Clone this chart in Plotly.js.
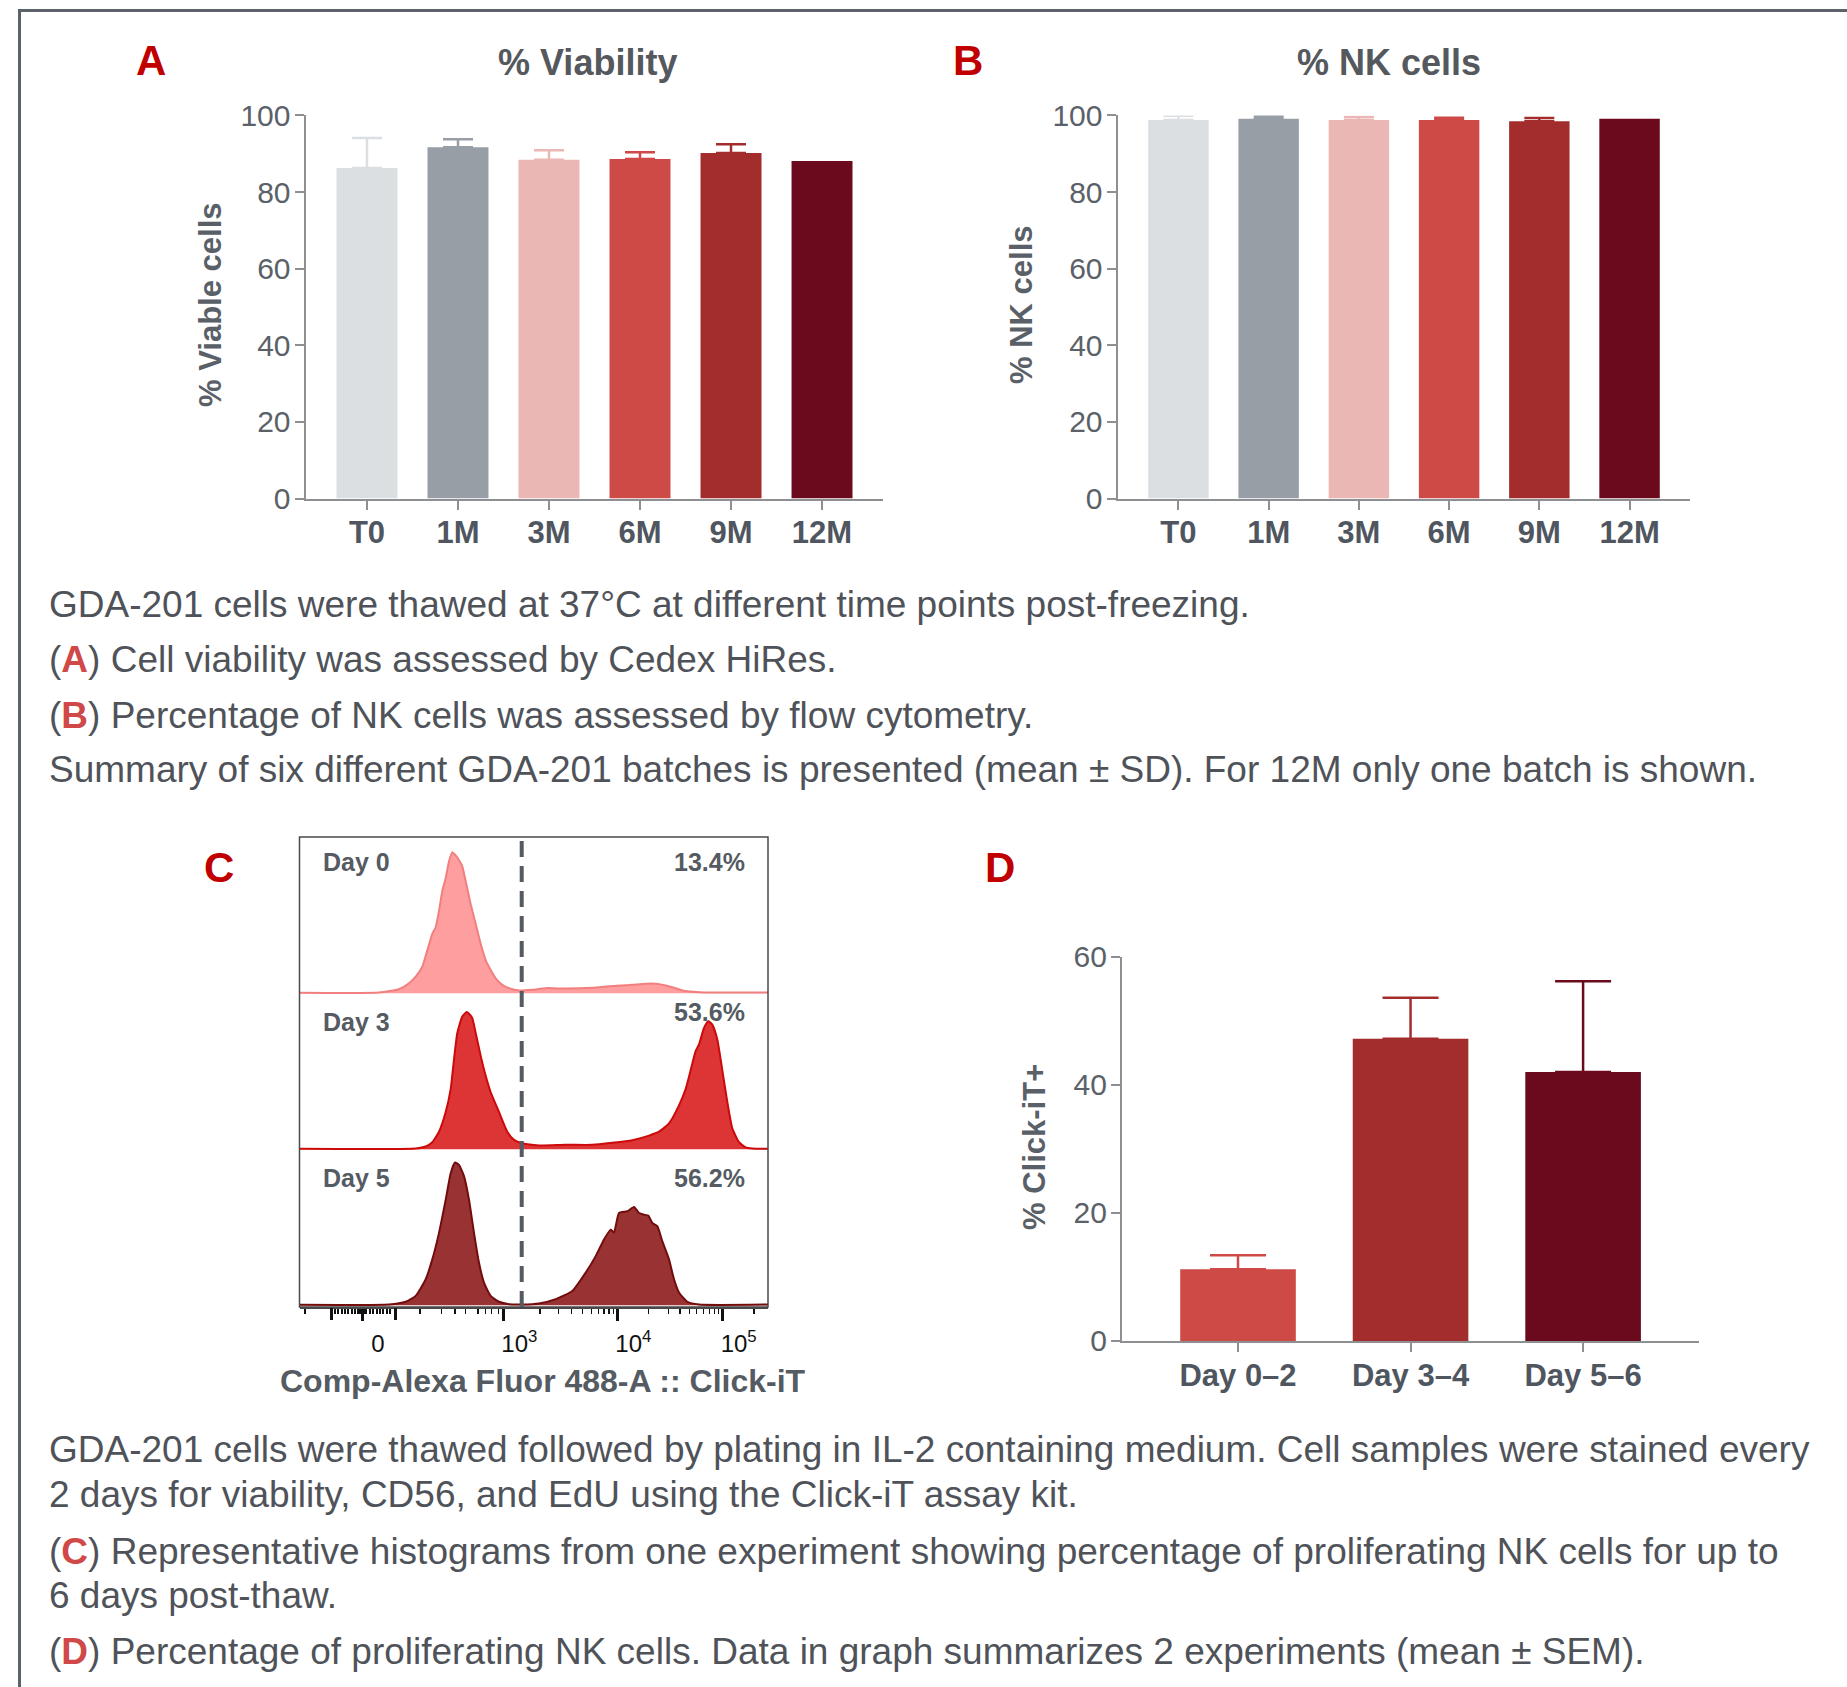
<!DOCTYPE html>
<html>
<head>
<meta charset="utf-8">
<script src="https://cdn.plot.ly/plotly-3.0.1.min.js"></script>
<style>html,body{margin:0;padding:0;background:#fff}#chart{width:1847px;height:1687px}</style>
</head>
<body>
<div id="chart"></div>
<script>
// ---------- DATA ----------
const timeCats = ['T0', '1M', '3M', '6M', '9M', '12M'];
const viability = [86.3, 91.7, 88.4, 88.6, 90.2, 88.1];
const viabilitySD = [7.8, 2.1, 2.5, 1.8, 2.3, 0];
const nkCells = [98.8, 99.1, 98.8, 98.8, 98.5, 99.1];
const nkCellsSD = [1.1, 0.7, 0.8, 0.6, 0.85, 0];
const timeColors = ['#dcdfe2', '#979ea5', '#eab7b5', '#cd4a47', '#a32d2d', '#6b0a1c'];

const dayCats = ['Day 0–2', 'Day 3–4', 'Day 5–6'];
const clickIt = [11.2, 47.2, 42.0];
const clickItSEM = [2.2, 6.4, 14.2];
const dayColors = ['#cd4a47', '#a32d2d', '#6b0a1c'];

// Histograms (display channel, % of mode)
const day0X = [0, 80, 100, 110, 116.7, 123.3, 128.3, 133.3, 136.7, 140, 143.3, 146.7, 150, 153.3, 156.7, 161.7, 163.3, 166.7, 171.7, 176.7, 181.7, 186.7, 191.7, 196.7, 203.3, 210, 220, 233.3, 246.7, 266.7, 293.3, 313.3, 333.3, 353.3, 366.7, 373.3, 383.3, 400, 433.3, 470];
const day0Y = [0.3, 0.4, 2.5, 6.3, 10.5, 16.9, 27.4, 38, 42.2, 52.7, 65.4, 73.8, 84.4, 90.3, 88.2, 83.3, 81.2, 71.7, 57, 44.3, 31.6, 21.1, 14.8, 9.5, 5.3, 3.2, 1.7, 2.1, 3.2, 2.9, 3.4, 4.6, 5.3, 6.1, 4.9, 3.8, 1.7, 0.6, 0.4, 0.4];
const day3X = [0, 116.7, 126.7, 133.3, 140, 146.7, 151.7, 155, 158.3, 163.3, 167.7, 170, 173.3, 176.7, 181.7, 186.7, 191.7, 200, 208.3, 215, 223.3, 240, 266.7, 293.3, 313.3, 333.3, 350, 360, 370, 380, 386.7, 391.7, 396.7, 400, 405, 409.3, 413.3, 418.3, 423.3, 428.3, 433.3, 440, 446.7, 453.3, 470];
const day3Y = [0.2, 0.4, 1.7, 4.5, 11.3, 24.1, 39.1, 58.3, 75.4, 86.1, 88.9, 87.8, 85, 75.4, 60.5, 47.6, 36.9, 24.1, 11.3, 6, 3.8, 2.4, 2.8, 2.8, 4.1, 5.8, 8.8, 11.3, 16.7, 28.4, 39.1, 51.3, 63.7, 67.9, 78.6, 82.9, 80.8, 71.2, 51.3, 30.6, 13.5, 4.5, 1.1, 0.4, 0.2];
const day5X = [0, 90, 106.7, 116.7, 126.7, 133.3, 140, 146.7, 151.7, 156, 160, 165, 170, 175, 180, 185, 191.7, 200, 210, 223.3, 240, 256.7, 273.3, 286.7, 296.7, 305, 311.7, 315, 320, 328.3, 335, 340, 345, 349.3, 353.3, 358.3, 363.3, 370, 375, 380, 388.3, 400, 470];
const day5Y = [0.2, 0.4, 2.2, 6, 16.8, 29.7, 46.9, 68.4, 85.6, 92.5, 91, 83.7, 68.4, 46.9, 27.5, 14.6, 6, 2.2, 0.6, 0.4, 1.1, 3.9, 9.2, 21.1, 31.8, 42.6, 49, 47.1, 59.8, 60.9, 63.7, 59.8, 58.7, 58.1, 53.3, 51.2, 41.5, 29.7, 16.8, 8.2, 2.2, 0.4, 0.4];
const histLabels = ['Day 0', 'Day 3', 'Day 5'];
const histPercents = ['13.4%', '53.6%', '56.2%'];
const gateChannel = 222.7;

// C axis ticks (display channel)
const cLabelVals = [63, 204.3, 318.3, 423.7];
const cLabelText = ['0', '10<sup>3</sup>', '10<sup>4</sup>', '10<sup>5</sup>'];
const cTallVals = [32.7, 96];
const cMinorVals = [6, 36, 39, 43, 46, 49, 53, 56, 59, 61, 65, 67, 71, 74, 78, 81, 84, 88, 91, 121, 142.7, 156, 166.7, 179, 186.7, 192.7, 199.3, 241, 259.3, 272.7, 283.3, 292.7, 299.3, 305, 310, 314.3, 349.3, 369.3, 381, 390.3, 397.7, 404.3, 410.3, 415.3, 419.7, 455];

const caption1 = [
  'GDA-201 cells were thawed at 37°C at different time points post-freezing.',
  '(A) Cell viability was assessed by Cedex HiRes.',
  '(B) Percentage of NK cells was assessed by flow cytometry.',
  'Summary of six different GDA-201 batches is presented (mean ± SD). For 12M only one batch is shown.'
];
const caption2 = [
  'GDA-201 cells were thawed followed by plating in IL-2 containing medium. Cell samples were stained every',
  '2 days for viability, CD56, and EdU using the Click-iT assay kit.',
  '(C) Representative histograms from one experiment showing percentage of proliferating NK cells for up to',
  '6 days post-thaw.',
  '(D) Percentage of proliferating NK cells. Data in graph summarizes 2 experiments (mean ± SEM).'
];

// ---------- LAYOUT HELPERS ----------
const W = 1847, H = 1687;
const fx = v => v / W;
const fy = v => 1 - v / H;
const FONT = 'Liberation Sans, Arial, Helvetica, sans-serif';
const AXC = '#8d8f92';

const traces = [];
function barTraces(cats, vals, errs, colors, xa, ya, capw) {
  cats.forEach((c, i) => {
    traces.push({
      type: 'bar', x: [c], y: [vals[i]], xaxis: xa, yaxis: ya, width: 0.67,
      marker: {color: colors[i], line: {width: 0}},
      error_y: {type: 'data', array: [errs[i]], arrayminus: [0], symmetric: false,
        visible: errs[i] > 0, color: colors[i], thickness: 2.5, width: capw},
      hoverinfo: 'skip'
    });
  });
}
barTraces(timeCats, viability, viabilitySD, timeColors, 'x', 'y', 15);
barTraces(timeCats, nkCells, nkCellsSD, timeColors, 'x2', 'y2', 15);
barTraces(dayCats, clickIt, clickItSEM, dayColors, 'x4', 'y6', 28);

const hist = [
  {x: day5X, y: day5Y, ya: 'y3', fill: '#993333', line: '#730c0c'},
  {x: day3X, y: day3Y, ya: 'y4', fill: '#dd3535', line: '#cc0a0a'},
  {x: day0X, y: day0Y, ya: 'y5', fill: '#ff9e9e', line: '#f27f7f'}
];
hist.forEach(h => traces.push({
  type: 'scatter', mode: 'lines', x: h.x, y: h.y, xaxis: 'x3', yaxis: h.ya,
  fill: 'tozeroy', fillcolor: h.fill, line: {color: h.line, width: 2, shape: 'spline', smoothing: 0.5},
  hoverinfo: 'skip'
}));
// carrier for the tall unlabeled ticks axis
traces.push({type: 'scatter', mode: 'none', x: [cTallVals[0]], y: [0], xaxis: 'x5', yaxis: 'y3', hoverinfo: 'skip'});

function yBar(domain, range, dtick, anchor) {
  return {domain: domain, range: range, dtick: dtick, anchor: anchor, showgrid: false, zeroline: false,
    showline: true, linecolor: AXC, linewidth: 2.5, ticks: 'outside', ticklen: 9, tickwidth: 2,
    tickcolor: AXC, tickfont: {family: FONT, size: 30, color: '#5b6168'}, ticklabelstandoff: -2, fixedrange: true};
}
function xBar(domain, range, anchor) {
  return {domain: domain, range: range, anchor: anchor, type: 'category', showgrid: false, zeroline: false,
    showline: true, linecolor: AXC, linewidth: 2.5, ticks: 'outside', ticklen: 9, tickwidth: 2,
    tickcolor: AXC, tickfont: {family: FONT, size: 31, color: '#4f5660', weight: 'bold'}, ticklabelstandoff: -4, fixedrange: true};
}
function yHist(domain) {
  return {domain: domain, range: [-1.2, 100], anchor: 'x3', visible: false, fixedrange: true};
}

const ann = [];
function txt(text, x, y, size, color, opts) {
  ann.push(Object.assign({text: text, x: fx(x), y: fy(y), xref: 'paper', yref: 'paper', showarrow: false,
    xanchor: 'center', yanchor: 'middle', font: {family: FONT, size: size, color: color}}, opts || {}));
}
// panel letters & titles
txt('<b>A</b>', 150.5, 61, 42, '#c00000');
txt('<b>B</b>', 968.5, 61, 42, '#c00000');
txt('<b>C</b>', 219, 868, 42, '#c00000');
txt('<b>D</b>', 1000, 868, 42, '#c00000');
txt('<b>% Viability</b>', 587, 63, 36, '#55585c');
txt('<b>% NK cells</b>', 1389, 63, 36, '#55585c');
txt('<b>% Viable cells</b>', 210, 305, 31, '#5a6068', {textangle: -90});
txt('<b>% NK cells</b>', 1021, 305, 31, '#5a6068', {textangle: -90});
txt('<b>% Click-iT+</b>', 1034, 1147, 31, '#5a6068', {textangle: -90});
txt('<b>Comp-Alexa Fluor 488-A :: Click-iT</b>', 543, 1381, 32, '#555b62');
// histogram labels
const histLabelY = [862, 1022, 1178];
const histPctY = [862, 1012, 1178];
histLabels.forEach((l, i) => {
  txt('<b>' + l + '</b>', 320.7, histLabelY[i], 25, '#555b62', {xanchor: 'left'});
  txt('<b>' + histPercents[i] + '</b>', 747, histPctY[i], 25, '#555b62', {xanchor: 'right'});
});
// captions
function cap(line) {
  return line.replace(/^\((\w)\)/, '(<span style="color:#d04848"><b>$1</b></span>)');
}
const cap1Y = [604, 660, 715, 770];
const cap2Y = [1449, 1494, 1551, 1595, 1651];
caption1.forEach((l, i) => txt(cap(l), 47, cap1Y[i], 37, '#4f5359', {xanchor: 'left'}));
caption2.forEach((l, i) => txt(cap(l), 47, cap2Y[i], 37, '#4f5359', {xanchor: 'left'}));

const shapes = [
  {type: 'line', xref: 'paper', yref: 'paper', x0: fx(19.5), x1: fx(19.5), y0: 0, y1: fy(10.5), line: {color: '#5c6269', width: 3}},
  {type: 'line', xref: 'paper', yref: 'paper', x0: fx(18), x1: 1, y0: fy(10.5), y1: fy(10.5), line: {color: '#5c6269', width: 3}},
  {type: 'rect', xref: 'paper', yref: 'paper', x0: fx(299.5), x1: fx(768), y0: fy(1307), y1: fy(837), line: {color: '#4a4a4a', width: 1.5}},
  {type: 'line', xref: 'x3', yref: 'paper', x0: gateChannel, x1: gateChannel, y0: fy(1307), y1: fy(839), line: {color: '#555b62', width: 4, dash: '16px,9px'}}
];

const cDomain = [fx(299.5), fx(768)];
const cRange = [0.5, 469];
const layout = {
  width: W, height: H, margin: {l: 0, r: 0, t: 0, b: 0}, paper_bgcolor: '#fff', plot_bgcolor: 'rgba(0,0,0,0)',
  showlegend: false, barmode: 'overlay', hovermode: false,
  font: {family: FONT},
  xaxis: xBar([fx(306), fx(883)], [-0.67, 5.67], 'y'),
  yaxis: yBar([fy(498.6), fy(115.4)], [0, 100], 20, 'x'),
  xaxis2: xBar([fx(1118), fx(1690)], [-0.67, 5.67], 'y2'),
  yaxis2: yBar([fy(498.6), fy(115.4)], [0, 100], 20, 'x2'),
  xaxis3: {domain: cDomain, range: cRange, anchor: 'y3', showgrid: false, zeroline: false,
    showline: true, linecolor: '#4a4a4a', linewidth: 1.5, ticks: 'outside', tickmode: 'array',
    tickvals: cLabelVals, ticktext: cLabelText, ticklen: 12, tickwidth: 3, tickcolor: '#111',
    tickfont: {family: FONT, size: 24, color: '#111'}, ticklabelshift: 16, ticklabelstandoff: 3,
    minor: {tickmode: 'array', tickvals: cMinorVals, ticks: 'outside', ticklen: 5, tickwidth: 1.5, tickcolor: '#111', showgrid: false},
    fixedrange: true},
  xaxis5: {domain: cDomain, range: cRange, anchor: 'y3', overlaying: 'x3', showgrid: false, zeroline: false,
    showline: false, ticks: 'outside', tickmode: 'array', tickvals: cTallVals, ticklen: 12, tickwidth: 3,
    tickcolor: '#111', showticklabels: false, fixedrange: true},
  yaxis3: yHist([fy(1307), fy(1151)]),
  yaxis4: yHist([fy(1151), fy(995)]),
  yaxis5: yHist([fy(995), fy(837)]),
  xaxis4: xBar([fx(1122.4), fx(1698.7)], [-0.67, 2.67], 'y6'),
  yaxis6: yBar([fy(1340.9), fy(956.9)], [0, 60], 20, 'x4'),
  annotations: ann,
  shapes: shapes
};

Plotly.newPlot('chart', traces, layout, {staticPlot: true, displayModeBar: false});
</script>
</body>
</html>
